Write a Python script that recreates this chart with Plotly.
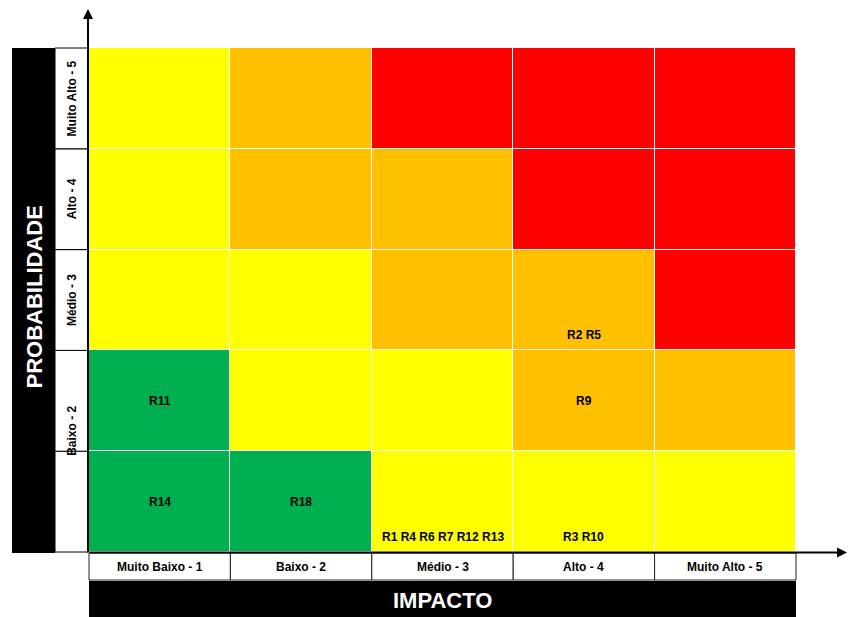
import plotly.graph_objects as go

# ---- data ----
impact_labels = ["Muito Baixo - 1", "Baixo - 2", "Médio - 3", "Alto - 4", "Muito Alto - 5"]
prob_labels = ["", "Baixo - 2", "Médio - 3", "Alto - 4", "Muito Alto - 5"]
impact_values = [1, 2, 3, 4, 5]
prob_values = [1, 2, 3, 4, 5]

# risk level per cell (rows = probability 1..5, cols = impact 1..5)
# 1 = low (green), 2 = moderate (yellow), 3 = high (orange), 4 = extreme (red)
risk_level = [
    [1, 1, 2, 2, 2],
    [1, 2, 2, 3, 3],
    [2, 2, 3, 3, 4],
    [2, 3, 3, 4, 4],
    [2, 3, 4, 4, 4],
]

risk_impact = [1, 1, 2, 3, 4, 4, 4]
risk_prob = [2, 1, 1, 1, 1, 3, 2]
risk_text = ["R11", "R14", "R18", "R1 R4 R6 R7 R12 R13", "R3 R10", "R2 R5", "R9"]
risk_anchor = ["middle", "middle", "middle", "bottom", "bottom", "bottom", "middle"]

# ---- style ----
W, H = 848, 617
ML, MR, MT, MB = 89, 52, 48, 65
PW, PH = W - ML - MR, H - MT - MB
FONT = "Arial, Liberation Sans, sans-serif"
GREEN, YELLOW, ORANGE, RED = "#00B050", "#FFFF00", "#FFC000", "#FF0000"


def px(x):
    return (x - ML) / PW


def py(y):
    return (H - MB - y) / PH


colorscale = [
    [0.0, GREEN], [0.25, GREEN],
    [0.25, YELLOW], [0.5, YELLOW],
    [0.5, ORANGE], [0.75, ORANGE],
    [0.75, RED], [1.0, RED],
]

fig = go.Figure(
    go.Heatmap(
        x=impact_values,
        y=prob_values,
        z=risk_level,
        zmin=0.5,
        zmax=4.5,
        colorscale=colorscale,
        showscale=False,
        xgap=1,
        ygap=1,
        hoverinfo="skip",
    )
)

shapes = []
annotations = []


def ann(**kw):
    kw.setdefault("xanchor", "center")
    kw.setdefault("yanchor", "middle")
    kw.setdefault("showarrow", False)
    annotations.append(kw)


# left black band
shapes.append(dict(type="rect", xref="paper", yref="paper", x0=px(12), x1=px(55),
                   y0=py(553), y1=py(48), fillcolor="black", line=dict(width=0), layer="above"))
# probability label boxes
n = len(prob_values)
for i, lab in enumerate(prob_labels):
    shapes.append(dict(type="rect", xref="paper", yref="paper", x0=px(55), x1=px(88),
                       y0=i / n, y1=(i + 1) / n, fillcolor="white",
                       line=dict(color="black", width=1), layer="above"))
for i, lab in enumerate(prob_labels):
    if lab:
        ann(xref="paper", yref="paper", x=px(72), y=(i + 0.5) / n,
            text="<b>" + lab + "</b>", textangle=-90,
            font=dict(family=FONT, size=12, color="black"),
            yshift=-30 if i == 1 else 0)
# impact label boxes
m = len(impact_values)
for j, lab in enumerate(impact_labels):
    shapes.append(dict(type="rect", xref="paper", yref="paper", x0=j / m, x1=(j + 1) / m,
                       y0=py(580), y1=py(553), fillcolor="white",
                       line=dict(color="#222222", width=1), layer="above"))
    ann(xref="paper", yref="paper", x=(j + 0.5) / m, y=py(567),
        text="<b>" + lab + "</b>",
        font=dict(family=FONT, size=12, color="black"))
# bottom black band
shapes.append(dict(type="rect", xref="paper", yref="paper", x0=0, x1=1,
                   y0=py(618), y1=py(581), fillcolor="black", line=dict(width=0), layer="above"))

# axis titles
ann(xref="paper", yref="paper", x=px(33.5), y=py(297),
    text="<b>PROBABILIDADE</b>", textangle=-90,
    font=dict(family=FONT, size=22, color="white"))
ann(xref="paper", yref="paper", x=0.5, y=py(600),
    text="<b>IMPACTO</b>",
    font=dict(family=FONT, size=22, color="white"))

# axis arrows
annotations.append(dict(xref="paper", yref="paper", x=px(88), y=py(9), ax=0, ay=545,
                        axref="pixel", ayref="pixel", text="", showarrow=True,
                        arrowhead=2, arrowsize=1, arrowwidth=2, arrowcolor="black"))
annotations.append(dict(xref="paper", yref="paper", x=px(853), y=py(552.5), ax=-765, ay=0,
                        axref="pixel", ayref="pixel", text="", showarrow=True,
                        arrowhead=2, arrowsize=1, arrowwidth=2, arrowcolor="black"))

# risk labels inside cells
for xi, yi, t, a in zip(risk_impact, risk_prob, risk_text, risk_anchor):
    if a == "middle":
        ann(xref="x", yref="y", x=xi, y=yi, text="<b>" + t + "</b>",
            font=dict(family=FONT, size=12, color="black"))
    else:
        ann(xref="x", yref="y", x=xi, y=yi - 0.5, yanchor="bottom",
            yshift=6, text="<b>" + t + "</b>",
            font=dict(family=FONT, size=12, color="black"))

fig.update_layout(
    width=W,
    height=H,
    margin=dict(l=ML, r=MR, t=MT, b=MB, pad=0),
    paper_bgcolor="white",
    plot_bgcolor="white",
    shapes=shapes,
    annotations=annotations,
    showlegend=False,
    xaxis=dict(range=[0.5, 5.5], showticklabels=False, showgrid=False, zeroline=False,
               ticks="", showline=False, fixedrange=True),
    yaxis=dict(range=[0.5, 5.5], showticklabels=False, showgrid=False, zeroline=False,
               ticks="", showline=False, fixedrange=True),
)

fig.write_html("out.html")
